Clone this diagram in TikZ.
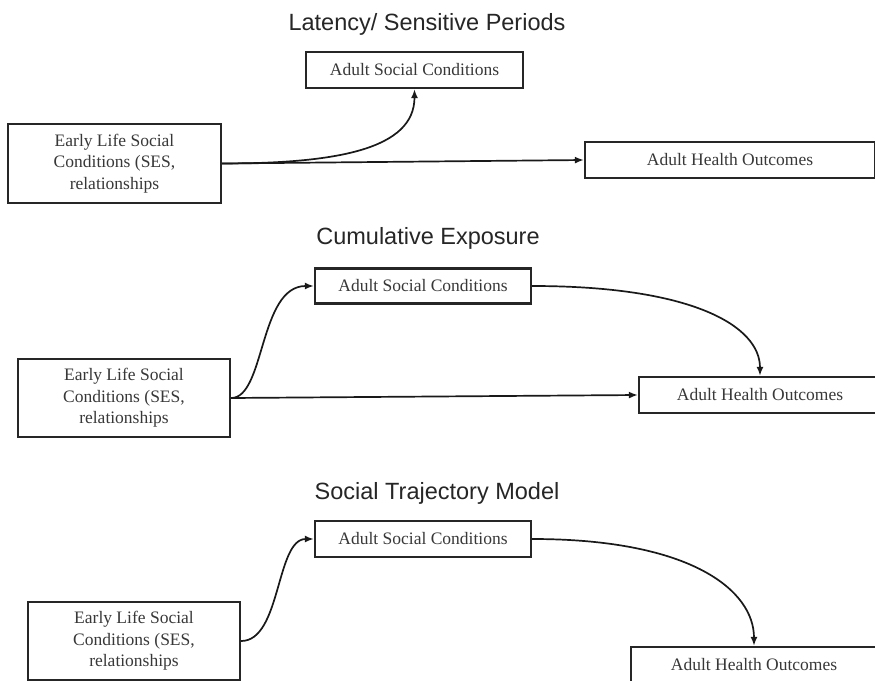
\documentclass[tikz,border=0pt]{standalone}
\usepackage{fontspec}
\setmainfont{Liberation Serif}
\newfontfamily\titlefont{Liberation Sans}
\usetikzlibrary{arrows.meta}
\begin{document}
\begin{tikzpicture}[x=1pt,y=-1pt,
  box/.style={draw=black!85, line width=2.3pt, inner sep=0pt, align=center,
    text=black!78, font=\fontsize{17.5}{21.5}\selectfont},
  ttl/.style={inner sep=0pt, text=black!85, font=\titlefont\fontsize{23.5}{28}\selectfont},
  arr/.style={draw=black!90, line width=1.7pt, -{Latex[length=9pt,width=7pt]}}]
\clip (0,0) rectangle (875,680);
\fill[white] (0,0) rectangle (875,680);
% ---------- Latency / Sensitive Periods
\node[ttl] (t1) at (427,24) {Latency/ Sensitive Periods};
\node[box, minimum width=217pt, minimum height=36pt] (a1) at (414.5,70) {Adult Social Conditions};
\node[box, minimum width=213pt, minimum height=79pt] (e1) at (114.5,163.5) {Early Life Social\\Conditions (SES,\\relationships};
\node[box, minimum width=290pt, minimum height=36pt] (h1) at (730,160) {Adult Health Outcomes};
\draw[arr] (e1.east) .. controls +(115,0) and +(0,60) .. (a1.south);
\draw[arr] (e1.east) -- (h1.west);
% ---------- Cumulative Exposure
\node[ttl] (t2) at (428,238) {Cumulative Exposure};
\node[box, minimum width=216pt, minimum height=35pt] (a2) at (423,286) {Adult Social Conditions};
\node[box, minimum width=212pt, minimum height=78pt] (e2) at (124,398) {Early Life Social\\Conditions (SES,\\relationships};
\node[box, minimum width=242pt, minimum height=36pt] (h2) at (760,395) {Adult Health Outcomes};
\draw[arr] (e2.east) .. controls +(34,0) and +(-55,0) .. (a2.west);
\draw[arr] (e2.east) -- (h2.west);
\draw[arr] (a2.east) .. controls +(160,0) and +(0,-50) .. (h2.north);
% ---------- Social Trajectory Model
\node[ttl] (t3) at (437,493) {Social Trajectory Model};
\node[box, minimum width=216pt, minimum height=36pt] (a3) at (423,539) {Adult Social Conditions};
\node[box, minimum width=212pt, minimum height=78pt] (e3) at (134,641) {Early Life Social\\Conditions (SES,\\relationships};
\node[box, minimum width=246pt, minimum height=36pt] (h3) at (754,665) {Adult Health Outcomes};
\draw[arr] (e3.east) .. controls +(40,0) and +(-38,0) .. (a3.west);
\draw[arr] (a3.east) .. controls +(160,0) and +(0,-55) .. (h3.north);
\end{tikzpicture}
\end{document}
